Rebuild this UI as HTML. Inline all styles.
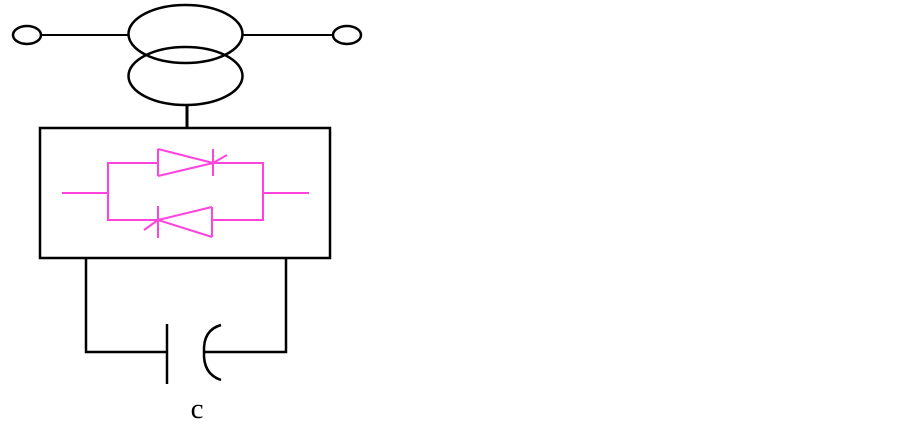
<!DOCTYPE html>
<html><head><style>body{margin:0;background:#fff}svg{display:block}</style></head><body>
<svg width="903" height="425" xmlns="http://www.w3.org/2000/svg">
<g fill="none" stroke="#000" stroke-width="2.5">
<ellipse cx="185.5" cy="34" rx="57" ry="29"/>
<ellipse cx="185.5" cy="76" rx="57" ry="29"/>
<ellipse cx="27" cy="35" rx="14" ry="9"/>
<ellipse cx="347" cy="35" rx="14" ry="9"/>
<line x1="41" y1="35" x2="128" y2="35" stroke-width="2"/>
<line x1="243" y1="35" x2="333" y2="35" stroke-width="2"/>
<line x1="187" y1="105" x2="187" y2="128" stroke-width="3"/>
<rect x="40" y="128" width="290" height="130" stroke-width="2.5"/>
<polyline points="86,258 86,352 167,352"/>
<line x1="167" y1="324" x2="167" y2="384"/>
<polyline points="205,352 286,352 286,258"/>
<path d="M221,325 Q203,330 204,352 Q203,374 221,380"/>
</g>
<g fill="none" stroke="#ff44dd" stroke-width="2">
<polyline points="158,163 108,163 108,220 158,220"/>
<polyline points="213,163 263,163 263,220 212,220"/>
<line x1="62" y1="193" x2="108" y2="193"/>
<line x1="263" y1="193" x2="309" y2="193"/>
<line x1="158" y1="149" x2="158" y2="176"/>
<polyline points="158,149 213,163 158,176"/>
<line x1="213" y1="149" x2="213" y2="176"/>
<line x1="213" y1="163" x2="227" y2="155"/>
<line x1="212" y1="207" x2="212" y2="237"/>
<polyline points="212,207 158,220 212,237"/>
<line x1="158" y1="206" x2="158" y2="238"/>
<line x1="158" y1="220" x2="144" y2="230"/>
</g>
<text x="197" y="418" font-family="Liberation Serif, serif" font-size="29" text-anchor="middle">c</text>
</svg>
</body></html>
